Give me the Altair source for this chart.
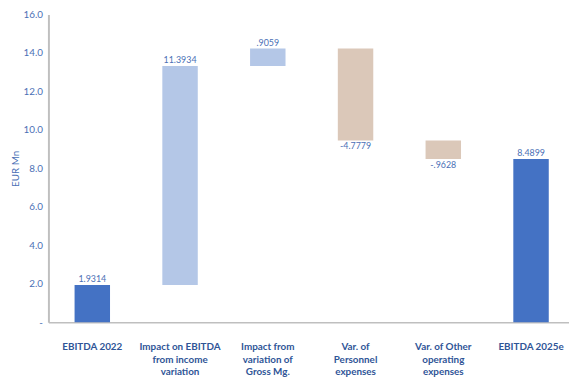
import altair as alt
import pandas as pd

categories = [
    "EBITDA 2022",
    "Impact on EBITDA|from income|variation",
    "Impact from|variation of|Gross Mg.",
    "Var. of|Personnel|expenses",
    "Var. of Other|operating|expenses",
    "EBITDA 2025e",
]
values = [1.9314, 11.3934, 0.9059, -4.7779, -0.9628, 8.4899]
kinds = ["total", "pos", "pos", "neg", "neg", "total"]
y_ticks = [0, 2, 4, 6, 8, 10, 12, 14, 16]

rows = []
running = 0.0
for cat, v, k in zip(categories, values, kinds):
    if k == "total":
        start, end = 0.0, v
        running = v
    else:
        start = running
        end = running + v
        running = end
    s = f"{v:.4f}"
    if abs(v) < 1:
        s = s.replace("0.", ".", 1)
    rows.append({"cat": cat, "start": start, "end": end, "kind": k, "label": s})
df = pd.DataFrame(rows)

FONT = "Lato"
y_scale = alt.Scale(domain=[0, 16], nice=False)
x_scale = alt.Scale(range=[0, 534], paddingInner=0.596, paddingOuter=0.298)
x_axis = alt.Axis(
    title=None,
    labelExpr="split(datum.label, '|')",
    labelAngle=0,
    labelFont=FONT,
    labelFontSize=10,
    labelFontWeight="bold",
    labelColor="#2F5597",
    labelLineHeight=12.7,
    labelPadding=20,
    ticks=False,
    domainColor="#BFBFBF",
    domainWidth=1.5,
    labelLimit=200,
    labelOverlap=False,
)
y_axis = alt.Axis(
    title="EUR Mn",
    titleFont=FONT,
    titleFontSize=10,
    titleFontWeight="normal",
    titleColor="#4A6FB5",
    titleX=-28,
    titleAngle=270,
    values=y_ticks,
    labelExpr="datum.value == 0 ? '-' : format(datum.value, '.1f')",
    labelFont=FONT,
    labelFontSize=10,
    labelColor="#4A6FB5",
    labelPadding=6,
    labelOverlap=False,
    ticks=False,
    grid=False,
    domainColor="#BFBFBF",
    domainWidth=2,
)

x_enc = alt.X("cat:N", sort=categories, scale=x_scale, axis=x_axis)

bars = alt.Chart(df).mark_bar().encode(
    x=x_enc,
    y=alt.Y("start:Q", scale=y_scale, axis=y_axis),
    y2="end:Q",
    color=alt.Color(
        "kind:N",
        scale=alt.Scale(domain=["total", "pos", "neg"], range=["#4472C4", "#B4C7E7", "#DBC8B9"]),
        legend=None,
    ),
)

text_up = alt.Chart(df).transform_filter("datum.kind != 'neg'").mark_text(
    baseline="bottom", dy=-1, font=FONT, fontSize=9, color="#4A6FB5"
).encode(
    x=x_enc,
    y=alt.Y("end:Q", scale=y_scale, axis=y_axis),
    text="label:N",
)

text_down = alt.Chart(df).transform_filter("datum.kind == 'neg'").mark_text(
    baseline="top", dy=2, font=FONT, fontSize=9, color="#4A6FB5"
).encode(
    x=x_enc,
    y=alt.Y("end:Q", scale=y_scale, axis=y_axis),
    text="label:N",
)

chart = alt.layer(bars, text_up, text_down).properties(
    width=528,
    height=312,
    autosize=alt.AutoSizeParams(type="none"),
    padding={"left": 41, "top": 4, "right": 0, "bottom": 54},
).configure_view(stroke=None)

chart.save("out.html", embed_options={"renderer": "svg", "actions": False})
